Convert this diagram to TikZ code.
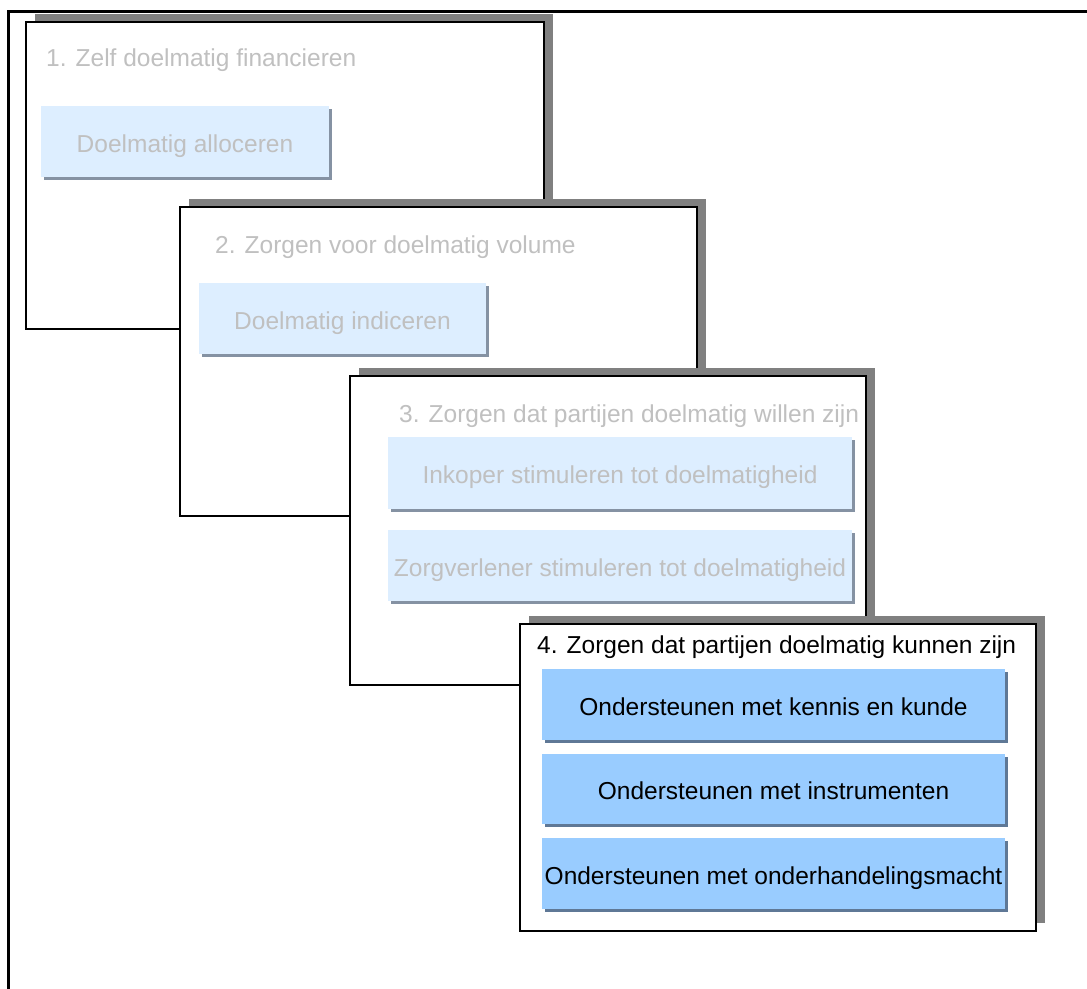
\documentclass[tikz,border=0pt]{standalone}
\usepackage{fontspec}
\setmainfont{Liberation Sans}
\usetikzlibrary{shadows}
\definecolor{panelshadow}{HTML}{808080}
\definecolor{palefill}{HTML}{DDEEFF}
\definecolor{paleshadow}{HTML}{8592A3}
\definecolor{bluefill}{HTML}{99CCFF}
\definecolor{blueshadow}{HTML}{5F7896}
\definecolor{dimtext}{HTML}{C0C0C0}
\begin{document}
\begin{tikzpicture}[x=1pt,y=-1pt,
  panel/.style={draw=black, line width=1.2pt, fill=white, inner sep=0pt, outer sep=0pt,
    anchor=north west,
    drop shadow={shadow xshift=8.5pt, shadow yshift=8pt, fill=panelshadow, opacity=1}},
  boxtext/.style={inner sep=0pt, outer sep=0pt, anchor=north west,
    font=\fontsize{24.5}{28}\selectfont, text height=21pt, text depth=0pt},
  palebox/.style={boxtext, fill=palefill, text=dimtext,
    drop shadow={shadow xshift=2.5pt, shadow yshift=-2.5pt, fill=paleshadow, opacity=1}},
  bluebox/.style={boxtext, fill=bluefill, text=black,
    drop shadow={shadow xshift=2.5pt, shadow yshift=-2.5pt, fill=blueshadow, opacity=1}},
  title/.style={anchor=base west, inner sep=0pt, font=\fontsize{24.5}{28}\selectfont}
]
\useasboundingbox (0,0) rectangle (1087,988);
\fill[white] (0,0) rectangle (1087,988);
% outer frame (top and left edges)
\draw[line width=3pt, line cap=rect] (8,990) -- (8,11) -- (1090,11);

% panel 1
\node[panel, minimum width=518pt, minimum height=307pt] (p1) at (26,22) {};
\node[title, text=dimtext] (t1) at (46,66) {1. Zelf doelmatig financieren};
\node[palebox, minimum width=288pt, minimum height=71pt] (b1) at (41,106) {Doelmatig alloceren};

% panel 2
\node[panel, minimum width=517pt, minimum height=309pt] (p2) at (180,207) {};
\node[title, text=dimtext] (t2) at (215,253) {2. Zorgen voor doelmatig volume};
\node[palebox, minimum width=287pt, minimum height=71pt] (b2) at (199,283) {Doelmatig indiceren};

% panel 3
\node[panel, minimum width=516pt, minimum height=309pt] (p3) at (350,376) {};
\node[title, text=dimtext] (t3) at (399,422) {3. Zorgen dat partijen doelmatig willen zijn};
\node[palebox, minimum width=464pt, minimum height=72pt] (b3a) at (388,437) {Inkoper stimuleren tot doelmatigheid};
\node[palebox, minimum width=464pt, minimum height=71pt] (b3b) at (388,530) {Zorgverlener stimuleren tot doelmatigheid};

% panel 4
\node[panel, minimum width=516pt, minimum height=307pt] (p4) at (520,624) {};
\node[title, text=black] (t4) at (537,653) {4. Zorgen dat partijen doelmatig kunnen zijn};
\node[bluebox, minimum width=463pt, minimum height=71pt] (b4a) at (542,669) {Ondersteunen met kennis en kunde};
\node[bluebox, minimum width=463pt, minimum height=70pt] (b4b) at (542,754) {Ondersteunen met instrumenten};
\node[bluebox, minimum width=463pt, minimum height=71pt] (b4c) at (542,838) {Ondersteunen met onderhandelingsmacht};
\end{tikzpicture}
\end{document}
